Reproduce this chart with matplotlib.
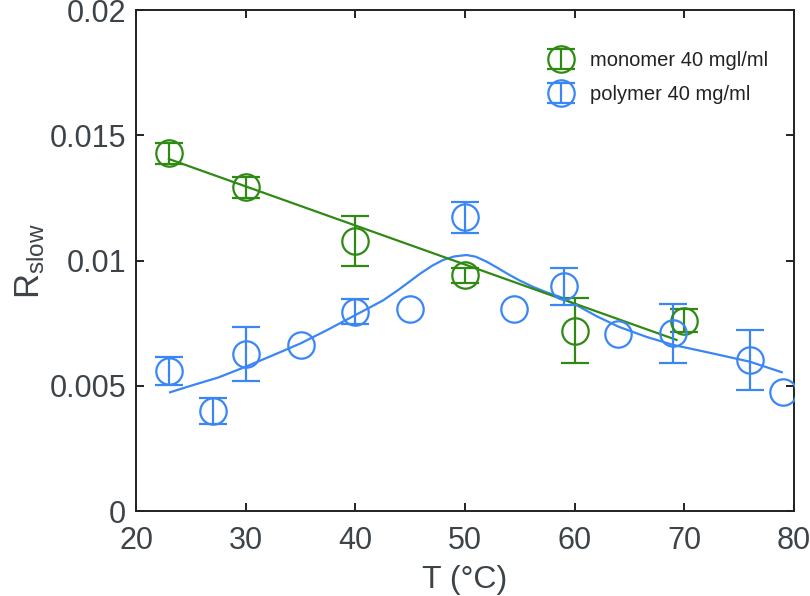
import matplotlib
matplotlib.use("Agg")
import matplotlib.pyplot as plt

plt.rcParams['font.family'] = ['Liberation Sans', 'DejaVu Sans']
plt.rcParams['mathtext.fontset'] = 'custom'
plt.rcParams['mathtext.rm'] = 'Liberation Sans'
plt.rcParams['mathtext.it'] = 'Liberation Sans:italic'

# Monomer 40 mg/ml data
mono_T = [23, 30, 40, 50, 60, 70]
mono_R = [0.01428, 0.01292, 0.01078, 0.00941, 0.00720, 0.00760]
mono_err = [0.00043, 0.00043, 0.00098, 0.00030, 0.00130, 0.00047]

# Polymer 40 mg/ml data
poly_T = [23, 27, 30, 35, 40, 45, 50, 54.5, 59, 64, 69, 76, 79]
poly_R = [0.00559, 0.00400, 0.00627, 0.00663, 0.00796, 0.00805, 0.01172,
          0.00805, 0.00898, 0.00705, 0.00709, 0.00603, 0.00476]
poly_err = [0.00055, 0.00053, 0.00107, 0, 0.00050, 0, 0.00061,
            0, 0.00074, 0, 0.00117, 0.00120, 0]

# Fit lines
mono_fit_T = [23, 69.3]
mono_fit_R = [0.01405, 0.00683]

poly_fit_T = [23.1, 25, 27.5, 30, 32.5, 35, 37.5, 40, 42.5, 44, 45.9, 47,
              48, 49, 50.15, 51, 52, 53, 53.8, 55, 56.2, 57.5, 58.65, 60.17,
              62, 64, 66.5, 69, 72.5, 76, 78.9]
poly_fit_R = [0.00474, 0.00500, 0.00533, 0.00576, 0.00622, 0.00669, 0.00724,
              0.00782, 0.00840, 0.00885, 0.00947, 0.00979, 0.01002, 0.01016,
              0.01022, 0.01015, 0.00995, 0.00970, 0.00949, 0.00920, 0.00895,
              0.00872, 0.00855, 0.00822, 0.00778, 0.00736, 0.00696, 0.00663,
              0.00630, 0.00596, 0.00554]

green = '#2f8a14'
blue = '#3a86f5'
text_col = '#3d4449'

fig = plt.figure(figsize=(8.1, 5.96), dpi=100)
ax = fig.add_axes([0.168, 0.1426, 0.812, 0.8406])

ax.plot(poly_fit_T, poly_fit_R, color=blue, lw=1.6, zorder=2)
ax.plot(mono_fit_T, mono_fit_R, color=green, lw=1.6, zorder=2)

mono_err_plot = [e if e > 0 else float('nan') for e in mono_err]
poly_err_plot = [e if e > 0 else float('nan') for e in poly_err]

ax.errorbar(mono_T, mono_R, yerr=mono_err_plot, fmt='o', mfc='none', mec=green,
            ecolor=green, ms=19, mew=1.6, elinewidth=1.6, capsize=10,
            capthick=1.6, label='monomer 40 mgl/ml', zorder=3)
ax.errorbar(poly_T, poly_R, yerr=poly_err_plot, fmt='o', mfc='none', mec=blue,
            ecolor=blue, ms=19, mew=1.6, elinewidth=1.6, capsize=10,
            capthick=1.6, label='polymer 40 mg/ml', zorder=3)

ax.set_xlim(20, 80)
ax.set_ylim(0, 0.02)
ax.set_xticks([20, 30, 40, 50, 60, 70, 80])
ax.set_yticks([0, 0.005, 0.01, 0.015, 0.02])
ax.set_yticklabels(['0', '0.005', '0.01', '0.015', '0.02'])

ax.tick_params(direction='in', top=True, right=True, length=6, width=1.4,
               labelsize=22, colors='#222222', labelcolor=text_col)
ax.tick_params(axis='x', pad=11)
ax.tick_params(axis='y', pad=7)
for s in ax.spines.values():
    s.set_linewidth(1.4)
    s.set_color('#222222')

ax.set_xlabel('T (°C)', fontsize=23, color=text_col, labelpad=6)
ax.set_ylabel(r'$\mathregular{R_{slow}}$', fontsize=25, color=text_col, labelpad=2)

leg = ax.legend(loc='upper right', bbox_to_anchor=(0.988, 0.955), frameon=False,
                fontsize=14.5, handletextpad=0.7, labelspacing=0.75,
                handlelength=1.4, borderaxespad=0.5)
for t in leg.get_texts():
    t.set_color('#222222')

fig.savefig('out.png', dpi=100)
